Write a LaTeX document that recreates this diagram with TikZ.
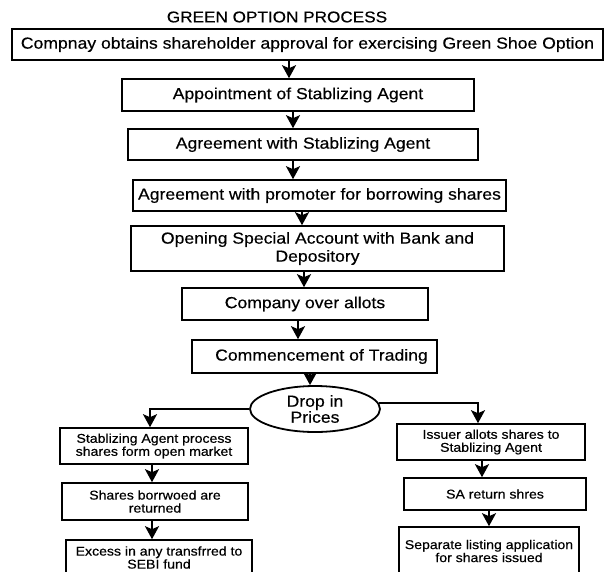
\documentclass[tikz,border=0pt]{standalone}
\usepackage{fontspec}
\setmainfont{Liberation Sans}[FakeStretch=1.1,FakeBold=0.4]
\usetikzlibrary{arrows.meta,shapes.geometric}
\begin{document}
\begin{tikzpicture}[x=1pt,y=-1pt,
  box/.style={draw, line width=1.6pt, inner sep=0pt, align=center},
  big/.style={font=\fontsize{16}{18}\selectfont},
  small/.style={font=\fontsize{12.8}{13}\selectfont},
  arr/.style={line width=2pt, -{Stealth[length=13pt,width=14pt,inset=3pt]}}
]
\useasboundingbox (0,0) rectangle (605,571);
\fill[white] (0,0) rectangle (605,571);

\node[font=\fontsize{15.6}{18}\selectfont] (title) at (277,17) {GREEN OPTION PROCESS};

\node[box,big,minimum width=591pt,minimum height=31pt] (b1) at (307.5,44.5) {Compnay obtains shareholder approval for exercising Green Shoe Option};
\node[box,big,minimum width=352pt,minimum height=32pt] (b2) at (298,95) {Appointment of Stablizing Agent};
\node[box,big,minimum width=350pt,minimum height=31pt] (b3) at (303,144.5) {Agreement with Stablizing Agent};
\node[box,big,minimum width=373pt,minimum height=31pt] (b4) at (319.5,195.5) {Agreement with promoter for borrowing shares};
\node[box,big,minimum width=373pt,minimum height=45pt] (b5) at (317.5,248.5) {Opening Special Account with Bank and\\Depository};
\node[box,big,minimum width=246pt,minimum height=32pt] (b6) at (305,304) {Company over allots};
\node[box,big,minimum width=245pt,minimum height=33pt] (b7) at (314.5,356.5) {\hspace*{14pt}Commencement of Trading};
\node[draw, line width=1.8pt, ellipse, inner sep=0pt, minimum width=130pt, minimum height=46pt, align=center, font=\fontsize{16}{16}\selectfont] (e) at (315,409) {Drop in\\Prices};

\node[box,small,minimum width=188pt,minimum height=36pt] (l1) at (154,446) {Stablizing Agent process\\shares form open market};
\node[box,small,minimum width=186pt,minimum height=37pt] (l2) at (155,501.5) {Shares borrwoed are\\returned};
\node[box,small,minimum width=186pt,minimum height=35pt] (l3) at (159,557.5) {Excess in any transfrred to\\SEBI fund};

\node[box,small,minimum width=188pt,minimum height=36pt] (r1) at (491,442) {Issuer allots shares to\\Stablizing Agent};
\node[box,small,minimum width=182pt,minimum height=32pt] (r2) at (495,494) {SA return shres};
\node[box,small,minimum width=180pt,minimum height=48pt] (r3) at (489,551) {Separate listing application\\for shares issued};

\coordinate (x1) at (289,0);
\coordinate (x2) at (293,0);
\coordinate (x4) at (302,0);
\coordinate (x5) at (304,0);
\coordinate (x6) at (298,0);
\coordinate (x7) at (310,0);
\coordinate (xl) at (150,0);
\coordinate (xr) at (478,0);
\coordinate (xl2) at (152,0);
\coordinate (xr1) at (482,0);
\coordinate (xr2) at (489,0);

\draw[arr] (x1 |- b1.south) -- (x1 |- b2.north);
\draw[arr] (x2 |- b2.south) -- (x2 |- b3.north);
\draw[arr] (x2 |- b3.south) -- (x2 |- b4.north);
\draw[arr] (x4 |- b4.south) -- (x4 |- b5.north);
\draw[arr] (x5 |- b5.south) -- (x5 |- b6.north);
\draw[arr] (x6 |- b6.south) -- (x6 |- b7.north);
\draw[arr] (x7 |- b7.south) -- (x7 |- e.north);

\draw[arr] (e.west) -| (xl |- l1.north);
\draw[arr] (e.5) -| (xr |- r1.north);

\draw[arr] (xl2 |- l1.south) -- (xl2 |- l2.north);
\draw[arr] (xl2 |- l2.south) -- (xl2 |- l3.north);
\draw[arr] (xr1 |- r1.south) -- (xr1 |- r2.north);
\draw[arr] (xr2 |- r2.south) -- (xr2 |- r3.north);
\end{tikzpicture}
\end{document}
